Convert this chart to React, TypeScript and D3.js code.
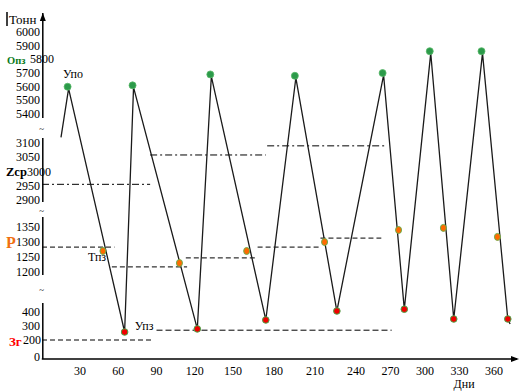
import React from 'react';
import * as d3 from 'd3';

// x axis ticks (days) and y tick labels for every piece of the broken axis
const xTicks = [30, 60, 90, 120, 150, 180, 210, 240, 270, 300, 330, 360];
const topTicks = [6000, 5900, 5800, 5700, 5600, 5500, 5400];
const midTicks = [3100, 3050, 3000, 2950, 2900];
const reorderTicks = [1350, 1300, 1250, 1200];
const lowTicks = [400, 300, 200, 0];

// stock curve: start, peaks after delivery, lows before delivery, end
const startDay = 15;
const startValue = 3120;
const peakDays = [21, 72, 133, 196, 264, 305, 350];
const peakValues = [5585, 5595, 5675, 5665, 5685, 5845, 5845];
const troughDays = [65, 122, 174, 226, 282, 325, 372];
const troughValues = [257, 279, 343, 407, 420, 350, 350];
const endDay = 374;
const endValue = 314;

// reorder points (Тпз)
const reorderDays = [48, 108, 160, 217, 277, 316, 363];
const reorderValues = [1270, 1230, 1270, 1300, 1340, 1347, 1317];

// average stock Zср per period
const avgFrom = [0, 85, 175];
const avgTo = [85, 174, 266];
const avgValues = [2955, 3058, 3090];

// reorder level P per cycle
const pFrom = [0, 55, 113, 168, 214];
const pTo = [57, 114, 168, 213, 262];
const pValues = [1283, 1217, 1247, 1283, 1313];

// reserve stock Зг and level Упз
const reserveFrom = 0;
const reserveTo = 86;
const reserveValue = 200;
const minFrom = 90;
const minTo = 271;
const minValue = 270;

const W = 523;
const H = 392;
const font = "'Liberation Serif', 'Times New Roman', 'DejaVu Serif', serif";

export default function App() {
    // the day labels are not spaced evenly in the original, so piecewise
    var x = d3.scaleLinear().domain([0, 30, 150, 240, 360]).range([42, 80, 233, 356, 494]);

    var yTop = d3.scaleLinear().domain([5400, 6000]).range([114, 32]);
    var yMid = d3.scaleLinear().domain([2900, 3100]).range([200, 143]);
    var yRe = d3.scaleLinear().domain([1200, 1350]).range([272, 227]);
    var yLow = d3.scaleLinear().domain([0, 200, 400]).range([357, 340, 312]);

    var y = (v: number) => v >= 5000 ? yTop(v) : v >= 2500 ? yMid(v) : v >= 1000 ? yRe(v) : yLow(v);

    var axisX = x(0) + 0.8;
    var axisY = yLow(0) + 2;

    var pts: [number, number][] = [[startDay, startValue]];
    peakDays.forEach((d, i) => {
        pts.push([d, peakValues[i]]);
        pts.push([troughDays[i], troughValues[i]]);
    });
    pts.push([endDay, endValue]);

    var line = d3.line<[number, number]>()
        .x(d => x(d[0]))
        .y(d => y(d[1]));

    // pieces of the y axis line
    var segments = [
        [yTop(6000) - 19, yTop(5400) + 4],
        [yMid(3100) - 5, yMid(2900) + 2],
        [yRe(1350) - 10, yRe(1200) + 3],
        [yLow(400) - 9, axisY]
    ];
    var breaks = [0, 1, 2].map(i => (segments[i][1] + segments[i + 1][0]) / 2 + 1);

    var special: { [k: number]: boolean } = { 5800: true, 3000: true, 1300: true, 200: true };

    var tickLabel = (v: number, yy: number) => (
        <text key={'t' + v} x={40} y={yy} textAnchor="end" dominantBaseline="central">{v}</text>
    );

    return (
        <svg width={W} height={H} style={{ position: 'absolute', left: 0, top: 0, background: '#fff', fontFamily: font, fontSize: 12 }}
            fill="#000">
            {/* horizontal levels */}
            {avgValues.map((v, i) => (
                <line key={'z' + i} x1={x(avgFrom[i])} x2={x(avgTo[i])} y1={yMid(v)} y2={yMid(v)}
                    stroke="#000" strokeWidth={1} strokeDasharray="7,3,2,3" />
            ))}
            {pValues.map((v, i) => (
                <line key={'p' + i} x1={x(pFrom[i])} x2={x(pTo[i])} y1={yRe(v)} y2={yRe(v)}
                    stroke="#000" strokeWidth={1} strokeDasharray="5,3" />
            ))}
            <line x1={x(reserveFrom)} x2={x(reserveTo)} y1={yLow(reserveValue)} y2={yLow(reserveValue)}
                stroke="#000" strokeWidth={1} strokeDasharray="5,3" />
            <line x1={x(minFrom)} x2={x(minTo)} y1={yLow(minValue)} y2={yLow(minValue)}
                stroke="#000" strokeWidth={1} strokeDasharray="6,3" />

            {/* stock curve */}
            <path d={line(pts) || ''} fill="none" stroke="#1a1a1a" strokeWidth={1.3} />

            {/* markers */}
            {peakDays.map((d, i) => (
                <circle key={'pk' + i} cx={x(d) - 1} cy={y(peakValues[i]) - 2} r={3.5}
                    fill="#2c9a4a" stroke="#58b868" strokeWidth={0.8} />
            ))}
            {troughDays.map((d, i) => (
                <circle key={'tr' + i} cx={x(d)} cy={y(troughValues[i])} r={3.3}
                    fill="#f00000" stroke="#4aa84a" strokeWidth={1} />
            ))}
            {reorderDays.map((d, i) => (
                <ellipse key={'ro' + i} cx={x(d)} cy={yRe(reorderValues[i])} rx={3} ry={3.5}
                    fill="#ff6a00" stroke="#6ab04c" strokeWidth={1} />
            ))}

            {/* y axis */}
            {segments.map((s, i) => (
                <line key={'seg' + i} x1={axisX} x2={axisX} y1={s[0]} y2={s[1]} stroke="#000" strokeWidth={1.5} />
            ))}
            <path d={`M${axisX},${segments[0][0]} l-3,8 l6,0 z`} fill="#000" />
            {breaks.map((b, i) => (
                <text key={'br' + i} x={axisX - 1} y={b} textAnchor="middle" dominantBaseline="central" fontSize={9}>~</text>
            ))}

            {/* x axis */}
            <line x1={axisX - 1} x2={517} y1={axisY} y2={axisY} stroke="#000" strokeWidth={1.5} />
            <path d={`M${523 - 4},${axisY} l-8,-3 l0,6 z`} fill="#000" />
            {xTicks.map(t => (
                <text key={'x' + t} x={x(t)} y={axisY + 12} textAnchor="middle" dominantBaseline="central">{t}</text>
            ))}
            <text x={x(334)} y={axisY + 25} textAnchor="middle" dominantBaseline="central">Дни</text>

            {/* y tick labels */}
            {topTicks.filter(v => !special[v]).map(v => tickLabel(v, yTop(v)))}
            {midTicks.filter(v => !special[v]).map(v => tickLabel(v, yMid(v)))}
            {reorderTicks.filter(v => !special[v]).map(v => tickLabel(v, yRe(v)))}
            {lowTicks.filter(v => !special[v]).map(v => tickLabel(v, yLow(v)))}

            <text x={7} y={yTop(5800) + 1} dominantBaseline="central" fontWeight="bold" fontSize={10.5} fill="#0a7a1a">Опз</text>
            <text x={30} y={yTop(5800)} dominantBaseline="central">5800</text>

            <text x={6} y={yMid(3000)} dominantBaseline="central" fontWeight="bold" fontSize={12.5}>Zср</text>
            <text x={27} y={yMid(3000)} dominantBaseline="central" fill="#000">3000</text>

            <text x={6} y={yRe(1300)} dominantBaseline="central" fontWeight="bold" fontSize={16} fill="#f07010">P</text>
            {tickLabel(1300, yRe(1300))}

            <text x={9} y={yLow(200) + 1} dominantBaseline="central" fontWeight="bold" fontSize={13} fill="#ff0000">Зг</text>
            <text x={41} y={yLow(200)} textAnchor="end" dominantBaseline="central">200</text>

            {/* annotations */}
            <line x1={7} x2={7} y1={12} y2={26} stroke="#000" strokeWidth={1.5} />
            <text x={9} y={19} dominantBaseline="central" fontSize={13}>Тонн</text>
            <text x={x(16.6)} y={yTop(5695)} dominantBaseline="central">Упо</text>
            <text x={x(36.3)} y={yRe(1250)} dominantBaseline="central">Тпз</text>
            <text x={x(73)} y={yLow(300)} dominantBaseline="central">Упз</text>
        </svg>
    );
}
